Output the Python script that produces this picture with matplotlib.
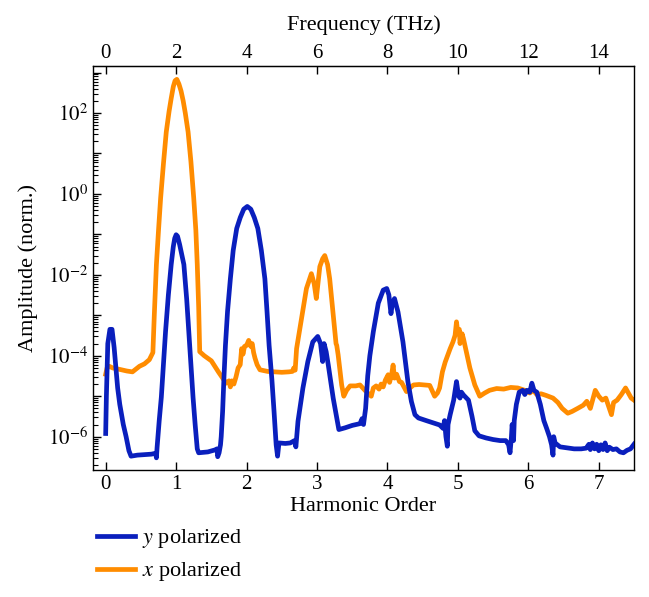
import matplotlib
matplotlib.use("Agg")
import matplotlib.pyplot as plt
from matplotlib.ticker import LogLocator, FuncFormatter, NullFormatter
import numpy as np

plt.rcParams["font.family"] = ["Liberation Serif", "DejaVu Serif"]
plt.rcParams["mathtext.fontset"] = "stix"

# harmonic order / normalised amplitude
y_pol_h = [0.00, 0.01, 0.03, 0.06, 0.09, 0.12, 0.14, 0.17, 0.20, 0.25, 0.29, 0.33,
           0.36, 0.45, 0.55, 0.65, 0.71, 0.72, 0.73, 0.76, 0.79, 0.82, 0.85, 0.89,
           0.93, 0.96, 0.98, 1.00, 1.02, 1.05, 1.08, 1.11, 1.15, 1.18, 1.21, 1.24,
           1.27, 1.30, 1.32, 1.45, 1.55, 1.58, 1.59, 1.61, 1.63, 1.64, 1.66, 1.68,
           1.70, 1.73, 1.77, 1.81, 1.86, 1.91, 1.96, 2.01, 2.06, 2.11, 2.16, 2.21,
           2.26, 2.29, 2.32, 2.36, 2.39, 2.42, 2.44, 2.46, 2.55, 2.62, 2.68, 2.70,
           2.73, 2.80, 2.87, 2.94, 3.01, 3.05, 3.08, 3.10, 3.13, 3.16, 3.23, 3.28,
           3.31, 3.40, 3.50, 3.61, 3.64, 3.66, 3.69, 3.72, 3.75, 3.80, 3.87, 3.94,
           3.99, 4.02, 4.05, 4.07, 4.10, 4.15, 4.22, 4.29, 4.34, 4.39, 4.44, 4.55,
           4.65, 4.74, 4.79, 4.81, 4.83, 4.85, 4.86, 4.89, 4.94, 4.98, 5.01, 5.03,
           5.05, 5.08, 5.15, 5.20, 5.24, 5.30, 5.40, 5.50, 5.60, 5.68, 5.72, 5.74,
           5.76, 5.77, 5.79, 5.80, 5.83, 5.87, 5.92, 5.95, 5.98, 6.02, 6.05, 6.08,
           6.12, 6.17, 6.22, 6.26, 6.30, 6.33, 6.35, 6.36, 6.38, 6.45, 6.55, 6.65,
           6.75, 6.82, 6.86, 6.88, 6.91, 6.94, 6.97, 7.00, 7.03, 7.06, 7.09, 7.12,
           7.15, 7.20, 7.25, 7.30, 7.35, 7.40, 7.45, 7.50]
y_pol_amp = [1.2e-6, 1e-5, 2e-4, 4.5e-4, 4.5e-4, 1.6e-4, 6.3e-5, 1.6e-5, 6.3e-6, 2e-6, 1e-6, 4.5e-7,
             3.3e-7, 3.5e-7, 3.6e-7, 3.7e-7, 3.9e-7, 3e-7, 5.5e-7, 2.5e-6, 9.5e-6, 6.3e-5, 4e-4, 3.2e-3,
             1.8e-2, 5e-2, 8e-2, 9.8e-2, 9e-2, 5.6e-2, 3.2e-2, 1.8e-2, 2.5e-3, 4e-4, 6.3e-5, 9.5e-6,
             2e-6, 5e-7, 4e-7, 4.2e-7, 4.7e-7, 5e-7, 3.2e-7, 4e-7, 6.3e-7, 1e-6, 4.2e-6, 3.2e-5,
             1.8e-4, 1.26e-3, 8e-3, 4e-2, 1.4e-1, 2.6e-1, 4.2e-1, 4.9e-1, 4.2e-1, 2.6e-1, 1.4e-1, 4e-2,
             8e-3, 1.26e-3, 1.8e-4, 2.5e-5, 4.2e-6, 6.3e-7, 3.3e-7, 7e-7, 6.8e-7, 7e-7, 8e-7, 5.6e-7,
             2.4e-6, 1.6e-5, 7.2e-5, 2.2e-4, 3e-4, 2e-4, 7.2e-5, 2e-4, 1.26e-4, 5.9e-5, 8.9e-6, 2.9e-6,
             1.5e-6, 1.66e-6, 1.9e-6, 2.1e-6, 2.8e-6, 2e-6, 5e-6, 3.2e-5, 1e-4, 4e-4, 2e-3, 4.2e-3,
             4.6e-3, 3.2e-3, 1.1e-3, 2e-3, 2.6e-3, 1.2e-3, 2.2e-4, 2.3e-5, 7.4e-6, 3.5e-6, 2.9e-6, 2.5e-6,
             2.2e-6, 1.95e-6, 1.6e-6, 2.5e-6, 1e-6, 5.8e-7, 2e-6, 3.5e-6, 8e-6, 2.3e-5, 1e-5, 9e-6,
             1.26e-5, 1.07e-5, 8e-6, 3.2e-6, 1.4e-6, 1.05e-6, 9.3e-7, 8.5e-7, 8e-7, 8e-7, 6.3e-7, 4e-7,
             1e-6, 2e-6, 8e-7, 2.5e-6, 6.3e-6, 1.26e-5, 1.4e-5, 1.1e-5, 1.4e-5, 1.26e-5, 2.1e-5, 1.4e-5,
             1.26e-5, 6.3e-6, 2.5e-6, 1.6e-6, 1e-6, 6.3e-7, 3.5e-7, 1e-6, 7e-7, 5.6e-7, 5.3e-7, 5e-7,
             5e-7, 5.2e-7, 6.5e-7, 4.8e-7, 7e-7, 5e-7, 6.5e-7, 4.5e-7, 6.3e-7, 4.8e-7, 7e-7, 4.5e-7,
             5.5e-7, 4.8e-7, 5e-7, 4.2e-7, 4e-7, 4.6e-7, 5e-7, 6.5e-7]

x_pol_h = [0.00, 0.02, 0.05, 0.10, 0.20, 0.30, 0.38, 0.48, 0.55, 0.62, 0.67, 0.69,
           0.72, 0.75, 0.78, 0.82, 0.86, 0.90, 0.93, 0.96, 0.985, 1.01, 1.04, 1.07,
           1.10, 1.13, 1.17, 1.21, 1.25, 1.28, 1.30, 1.32, 1.335, 1.40, 1.50, 1.60,
           1.71, 1.75, 1.77, 1.79, 1.82, 1.85, 1.88, 1.91, 1.93, 1.95, 1.97, 2.00,
           2.03, 2.06, 2.08, 2.10, 2.12, 2.15, 2.19, 2.30, 2.40, 2.50, 2.60, 2.65,
           2.67, 2.69, 2.71, 2.78, 2.85, 2.92, 2.96, 2.99, 3.02, 3.04, 3.08, 3.11,
           3.15, 3.18, 3.25, 3.27, 3.28, 3.30, 3.35, 3.38, 3.42, 3.47, 3.55, 3.61,
           3.68, 3.75, 3.77, 3.80, 3.84, 3.88, 3.91, 3.94, 3.97, 4.01, 4.03, 4.06,
           4.08, 4.10, 4.13, 4.17, 4.20, 4.27, 4.32, 4.37, 4.45, 4.53, 4.60, 4.64,
           4.67, 4.71, 4.74, 4.78, 4.82, 4.89, 4.93, 4.96, 4.98, 5.00, 5.02, 5.03,
           5.06, 5.08, 5.12, 5.17, 5.24, 5.31, 5.38, 5.45, 5.55, 5.65, 5.75, 5.85,
           5.95, 6.02, 6.07, 6.12, 6.18, 6.25, 6.35, 6.42, 6.48, 6.56, 6.62, 6.70,
           6.78, 6.83, 6.88, 6.92, 6.95, 7.00, 7.05, 7.10, 7.15, 7.18, 7.21, 7.26,
           7.32, 7.38, 7.42, 7.46, 7.50]
x_pol_amp = [3.5e-5, 5e-5, 5.5e-5, 5e-5, 4.6e-5, 4.2e-5, 4e-5, 5.5e-5, 6.3e-5, 8e-5, 1.2e-4, 1e-3,
             1.8e-2, 1.26e-1, 7.9e-1, 5.6e0, 3.4e1, 1.1e2, 2.3e2, 4.5e2, 6.3e2, 6.8e2, 5.2e2, 3.5e2,
             2e2, 1e2, 3.4e1, 6.3e0, 7.9e-1, 1.26e-1, 1.8e-2, 1.6e-3, 1.26e-4, 1e-4, 7.5e-5, 4e-5,
             2.1e-5, 2.4e-5, 1.7e-5, 2.4e-5, 2e-5, 3e-5, 5e-5, 6e-5, 1.5e-4, 1.1e-4, 1.7e-4, 1.8e-4,
             2.4e-4, 1.7e-4, 2e-4, 1.2e-4, 8.7e-5, 6e-5, 4.5e-5, 4.1e-5, 4e-5, 3.9e-5, 4e-5, 4.1e-5,
             5e-5, 4.4e-5, 1.5e-4, 8.3e-4, 4.6e-3, 1.07e-2, 6e-3, 2.6e-3, 8e-3, 1.6e-2, 2.5e-2, 3e-2,
             1.8e-2, 8e-3, 4.7e-4, 2e-4, 1.8e-4, 1.05e-4, 1.9e-5, 1e-5, 1.4e-5, 1.8e-5, 1.8e-5, 1.9e-5,
             1.4e-5, 1.07e-5, 1e-5, 1.6e-5, 1.8e-5, 1.5e-5, 2e-5, 1.7e-5, 2.5e-5, 3.4e-5, 2.2e-5, 3.5e-5,
             5.9e-5, 2.8e-5, 3.5e-5, 2.3e-5, 2.2e-5, 1.3e-5, 1.6e-5, 1.9e-5, 1.95e-5, 1.9e-5, 1.85e-5, 1.3e-5,
             1e-5, 1.2e-5, 1.6e-5, 4e-5, 7e-5, 1.5e-4, 2.2e-4, 3.2e-4, 6.9e-4, 3.5e-4, 4.5e-4, 2e-4,
             3.5e-4, 2.6e-4, 1.26e-4, 5e-5, 1.9e-5, 1e-5, 1.2e-5, 1.4e-5, 1.55e-5, 1.5e-5, 1.65e-5, 1.6e-5,
             1.4e-5, 1.2e-5, 1.4e-5, 1.1e-5, 1.15e-5, 1.05e-5, 9e-6, 7e-6, 5e-6, 3.8e-6, 4.2e-6, 5e-6,
             6e-6, 7.5e-6, 5e-6, 9e-6, 1.4e-5, 1e-5, 8e-6, 9e-6, 5e-6, 3.5e-6, 7e-6, 8e-6,
             1.1e-5, 1.6e-5, 1.2e-5, 9e-6, 8e-6]

harm_ticks = [0, 1, 2, 3, 4, 5, 6, 7]
freq_ticks = [0, 2, 4, 6, 8, 10, 12, 14]

BLUE = "#0a1fbd"
ORANGE = "#ff8c00"

fig = plt.figure(figsize=(6.49, 5.97), dpi=100)
ax = fig.add_axes([0.1433, 0.2127, 0.8336, 0.6767])

ax.plot(y_pol_h, y_pol_amp, color=BLUE, lw=3.4, label="$y$ polarized", zorder=3)
ax.plot(x_pol_h, x_pol_amp, color=ORANGE, lw=3.4, label="$x$ polarized", zorder=2)

ax.set_yscale("log")
ax.set_xlim(-0.18, 7.5)
ax.set_ylim(1.5e-7, 1.45e3)
ax.yaxis.set_major_locator(LogLocator(base=10, numticks=20))
ax.yaxis.set_minor_locator(LogLocator(base=10, subs=np.arange(2, 10), numticks=20))


def even_decades(v, pos):
    e = int(round(np.log10(v)))
    return f"$10^{{{e}}}$" if e % 2 == 0 else ""


ax.yaxis.set_major_formatter(FuncFormatter(even_decades))
ax.yaxis.set_minor_formatter(NullFormatter())
ax.set_xticks(harm_ticks)

ax.tick_params(axis="both", which="major", direction="in", length=6, width=1,
               labelsize=15, top=False, right=False)
ax.tick_params(axis="y", which="minor", direction="in", length=3.5, width=0.8, right=False)
for s in ax.spines.values():
    s.set_linewidth(1)

top = ax.secondary_xaxis("top", functions=(lambda h: 2 * h, lambda f: f / 2))
top.set_xticks(freq_ticks)
top.tick_params(direction="in", length=6, width=1, labelsize=15, pad=2)
top.set_xlabel("Frequency (THz)", fontsize=16, labelpad=10)

ax.set_xlabel("Harmonic Order", fontsize=16, labelpad=2)
ax.set_ylabel("Amplitude (norm.)", fontsize=16, labelpad=7)

fig.legend(loc="upper left", bbox_to_anchor=(0.118, 0.15), frameon=False,
           fontsize=16, handlelength=1.75, handletextpad=0.3, labelspacing=0.45)

fig.savefig("out.png", dpi=100)
